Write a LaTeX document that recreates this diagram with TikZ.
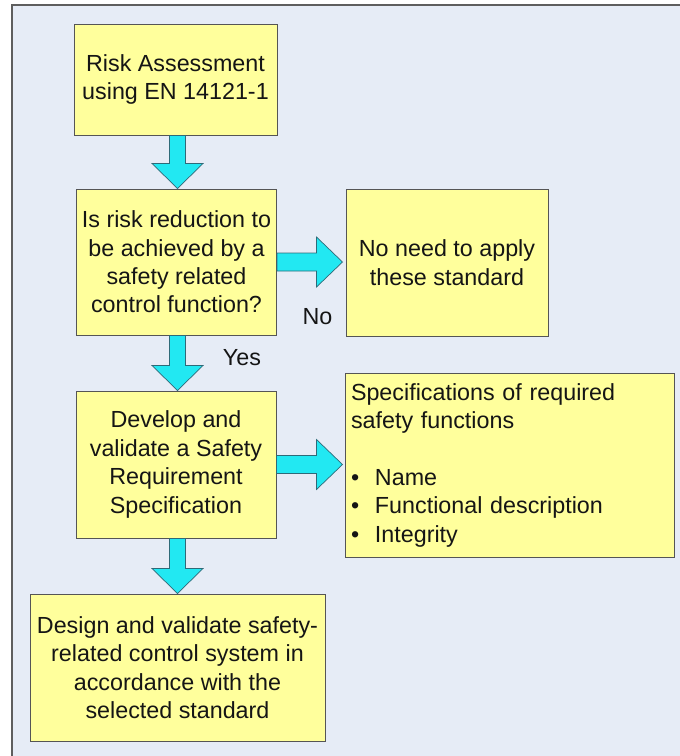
\documentclass[tikz,border=0pt]{standalone}
\usepackage{fontspec}
\setmainfont{Liberation Sans}
\usetikzlibrary{calc}
\definecolor{bgc}{HTML}{E6ECF6}
\definecolor{framec}{HTML}{5E5E5E}
\definecolor{boxfill}{HTML}{FFFF9C}
\definecolor{boxline}{HTML}{555555}
\definecolor{arrfill}{HTML}{22E8F2}
\definecolor{arrline}{HTML}{2E6A78}
\definecolor{txt}{HTML}{151515}
\newcommand\bigfont{\fontsize{23.3}{28.4}\selectfont}
\newcommand\vblockarrow[2]{%
  \draw[blockarrow] let \p1=(#1), \p2=(#2) in
    (\x1-8pt,\y1) -- (\x1+8pt,\y1) -- (\x1+8pt,\y2+25pt) -- (\x1+25.5pt,\y2+25pt)
    -- (\x1,\y2) -- (\x1-25.5pt,\y2+25pt) -- (\x1-8pt,\y2+25pt) -- cycle;}
\newcommand\hblockarrow[2]{%
  \draw[blockarrow] let \p1=(#1), \p2=(#2) in
    (\x1,\y1+9pt) -- (\x2-26pt,\y1+9pt) -- (\x2-26pt,\y1+25pt) -- (\x2,\y1)
    -- (\x2-26pt,\y1-25pt) -- (\x2-26pt,\y1-9pt) -- (\x1,\y1-9pt) -- cycle;}
\tikzset{
  box/.style={draw=boxline, fill=boxfill, line width=1pt, align=center,
    inner sep=0pt, text=txt, font=\bigfont},
  blockarrow/.style={draw=arrline, fill=arrfill, line width=0.7pt, line join=miter},
  lbl/.style={text=txt, font=\bigfont, inner sep=0pt}
}
\begin{document}
\begin{tikzpicture}[x=1pt, y=-1pt]
\useasboundingbox (0,0) rectangle (680,756);
\clip (0,0) rectangle (680,756);
\fill[white] (0,0) rectangle (680,756);
\draw[framec, fill=bgc, line width=1.6pt] (12,5) rectangle (700,757);

\node[box, minimum width=203pt, minimum height=111pt] (b1) at (175.5,79.5)
  {Risk Assessment\\using EN 14121-1};
\node[box, minimum width=200pt, minimum height=146pt] (b2) at (176.5,262)
  {Is risk reduction to\\be achieved by a\\safety related\\control function?};
\node[box, minimum width=202pt, minimum height=147pt] (b3) at (447,262.5)
  {No need to apply\\these standard};
\node[box, minimum width=200pt, minimum height=147pt] (b4) at (176,464.5)
  {Develop and\\validate a Safety\\Requirement\\Specification};
\node[box, minimum width=329pt, minimum height=184pt, align=left,
      text width=317pt] (b5) at (509.5,465)
  {Specifications of required\\safety functions\\[28.4pt]
   \makebox[24pt][l]{•}Name\\
   \makebox[24pt][l]{•}Functional description\\
   \makebox[24pt][l]{•}Integrity};
\node[box, minimum width=295pt, minimum height=147pt] (b6) at (177.5,667.5)
  {Design and validate safety-\\related control system in\\accordance with the\\selected standard};

\coordinate (a1s) at ([xshift=2]b1.south);
\coordinate (a1e) at ([xshift=2]b2.north);
\coordinate (a2s) at ([xshift=1]b2.south);
\coordinate (a2e) at ([xshift=1]b4.north);
\coordinate (a5s) at ([xshift=1.5]b4.south);
\coordinate (a5e) at (b6.north);
\coordinate (a3e) at ([xshift=-3]b3.west);
\coordinate (a4e) at ([xshift=-2]b5.west);

\vblockarrow{a1s}{a1e}
\vblockarrow{a2s}{a2e}
\vblockarrow{a5s}{a5e}
\hblockarrow{b2.east}{a3e}
\hblockarrow{b4.east}{a4e}

\node[lbl] (yes) at (242,358) {Yes};
\node[lbl] (no) at (317.5,317) {No};
\end{tikzpicture}
\end{document}
